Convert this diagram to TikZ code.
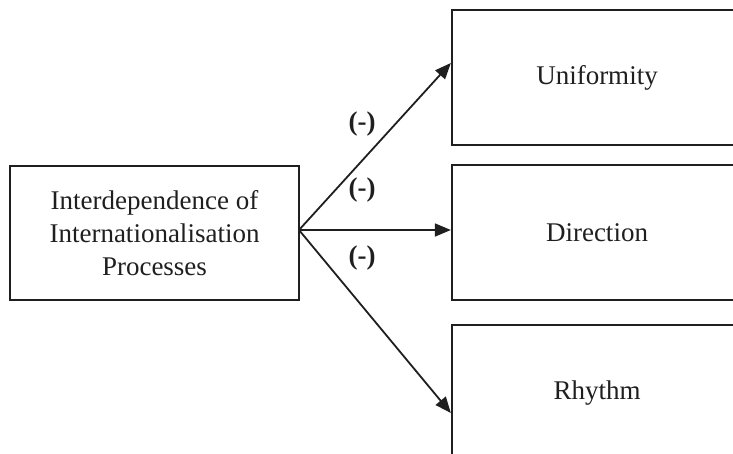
\documentclass[tikz,border=0pt]{standalone}
\usepackage{fontspec}
\setmainfont{Liberation Serif}
\usetikzlibrary{arrows.meta}
\begin{document}
\begin{tikzpicture}[x=1pt,y=-1pt,
  box/.style={draw=black!88, line width=2.3pt, inner sep=0pt, align=center,
    font=\fontsize{27}{33}\selectfont, text=black!88},
  arr/.style={line width=1.8pt, draw=black!88, -{Triangle[length=16pt,width=13pt]}},
  lab/.style={font=\fontsize{27}{33}\selectfont\bfseries, text=black!88}]
\useasboundingbox (0,0) rectangle (733,453);
\clip (0,0) rectangle (733,453);
\node[box, minimum width=289pt, minimum height=134pt] (src) at (154.5,233)
  {Interdependence of\\Internationalisation\\Processes};
\node[box, minimum width=290pt, minimum height=135pt] (uni) at (597,77.5) {Uniformity};
\node[box, minimum width=290pt, minimum height=135pt] (dir) at (597,232.5) {Direction};
\node[box, minimum width=290pt, minimum height=136pt] (rhy) at (597,393) {Rhythm};
\coordinate (o) at (299,230);
\draw[arr] (o) -- (uni.west |- 0,63);
\draw[arr] (o) -- (dir.west |- 0,230);
\draw[arr] (o) -- (rhy.west |- 0,413);
\node[lab] (l1) at (362,124) {(-)};
\node[lab] (l2) at (362,190) {(-)};
\node[lab] (l3) at (362,258) {(-)};
\end{tikzpicture}
\end{document}
